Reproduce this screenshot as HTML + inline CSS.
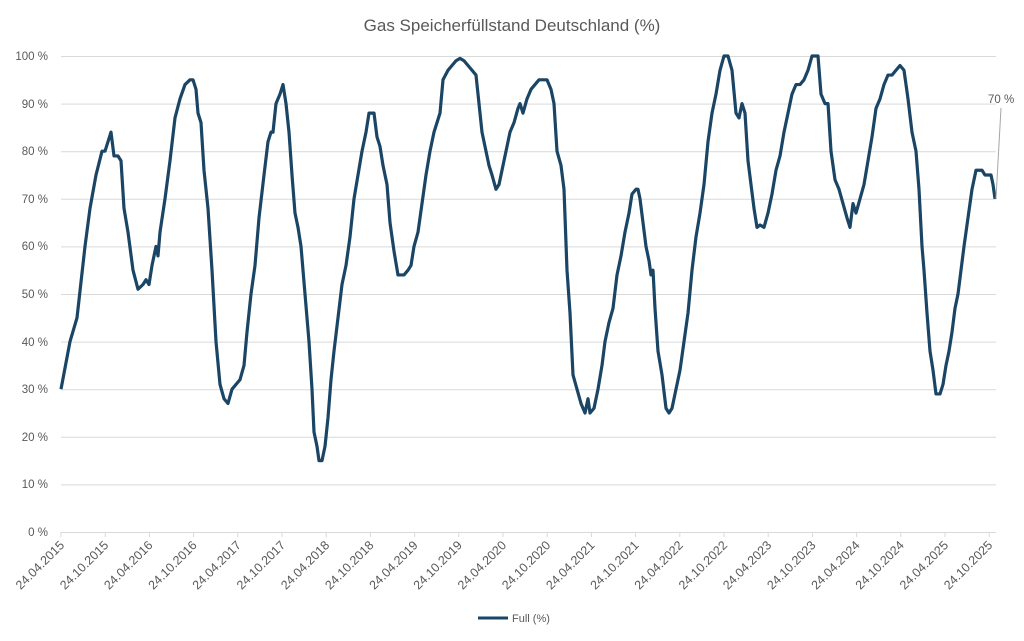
<!DOCTYPE html>
<html><head><meta charset="utf-8"><style>
html,body{margin:0;padding:0;background:#fff;}
svg{display:block;font-family:"Liberation Sans",sans-serif;}
</style></head><body>
<svg width="1024" height="641" viewBox="0 0 1024 641" xmlns="http://www.w3.org/2000/svg">
<text x="512" y="31" text-anchor="middle" font-size="17" fill="#595959">Gas Speicherfüllstand Deutschland (%)</text>
<g stroke="#d9d9d9" stroke-width="1">
<line x1="61" x2="996" y1="56.5" y2="56.5"/><line x1="61" x2="996" y1="104.1" y2="104.1"/><line x1="61" x2="996" y1="151.7" y2="151.7"/><line x1="61" x2="996" y1="199.3" y2="199.3"/><line x1="61" x2="996" y1="246.9" y2="246.9"/><line x1="61" x2="996" y1="294.5" y2="294.5"/><line x1="61" x2="996" y1="342.1" y2="342.1"/><line x1="61" x2="996" y1="389.7" y2="389.7"/><line x1="61" x2="996" y1="437.3" y2="437.3"/><line x1="61" x2="996" y1="484.9" y2="484.9"/><line x1="61" x2="996" y1="532.5" y2="532.5"/>
</g>
<g font-size="11.5" fill="#595959" text-anchor="end">
<text x="48" y="60">100 %</text><text x="48" y="108">90 %</text><text x="48" y="155">80 %</text><text x="48" y="203">70 %</text><text x="48" y="250">60 %</text><text x="48" y="298">50 %</text><text x="48" y="346">40 %</text><text x="48" y="393">30 %</text><text x="48" y="441">20 %</text><text x="48" y="488">10 %</text><text x="48" y="536">0 %</text>
</g>
<g id="ticks" stroke="#d9d9d9"></g>
<g id="xl" font-size="12.5" fill="#595959" text-anchor="end"></g>
<script>
var lab=[];for(var y=2015;y<=2025;y++){lab.push("24.04."+y);lab.push("24.10."+y);}
var t=document.getElementById("ticks"),g=document.getElementById("xl"),ns="http://www.w3.org/2000/svg";
lab.forEach(function(s,i){var x=61+i*44.2;
var l=document.createElementNS(ns,"line");l.setAttribute("x1",x);l.setAttribute("x2",x);l.setAttribute("y1",532);l.setAttribute("y2",537);t.appendChild(l);
var e=document.createElementNS(ns,"text");e.setAttribute("transform","translate("+(x+4)+",546) rotate(-45)");e.textContent=s;g.appendChild(e);});
</script>
<g transform="translate(0,532) scale(1,-4.76)">
<polyline fill="none" stroke="#1b4565" stroke-width="3.2" vector-effect="non-scaling-stroke" stroke-linejoin="round" points="61,30 70,40 77,45 85,60 90,68 96,75 102,80 105,80 108,82 111,84 114,79 118,79 121,78 124,68 128,63 133,55 138,51 143,52 146,53 149,52 152,56 156,60 158,58 160,63 165,70 170,78 175,87 180,91 185,94 190,95 193,95 196,93 198,88 201,86 204,76 208,68 212,55 216,40 220,31 224,28 228,27 232,30 236,31 240,32 244,35 247,42 251,50 255,56 259,66 264,75 268,82 271,84 273,84 276,90 280,92 283,94 286,90 289,84 292,75 295,67 298,64 301,60 305,50 309,40 312,30 314,21 317,18 319,15 322,15 325,18 328,24 331,32 334,38 338,45 342,52 346,56 350,62 354,70 358,75 362,80 366,84 369,88 374,88 377,83 380,81 383,77 387,73 390,65 394,59 398,54 404,54 408,55 411,56 414,60 418,63 422,69 426,75 430,80 434,84 437,86 440,88 443,95 448,97 452,98 456,99 460,99.5 464,99 468,98 472,97 476,96 479,90 482,84 486,80 489,77 492,75 496,72 499,73 502,76 506,80 510,84 514,86 518,89 520,90 523,88 527,91 531,93 535,94 539,95 543,95 547,95 551,93 554,90 557,80 561,77 564,72 567,55 570,46 573,33 577,30 581,27 585,25 588,28 590,25 594,26 598,30 602,35 605,40 609,44 613,47 617,54 621,58 625,63 629,67 632,71 636,72 638,72 640,70 643,65 646,60 649,57 651,54 653,55 655,47 658,38 662,33 666,26 669,25 672,26 676,30 680,34 684,40 688,46 692,55 696,62 700,67 704,73 708,82 712,88 716,92 720,97 724,100 728,100 732,97 736,88 739,87 742,90 745,88 748,78 751,73 754,68 757,64 760,64.5 764,64 768,67 772,71 776,76 780,79 784,84 788,88 792,92 796,94 800,94 804,95 808,97 812,100 818,100 821,92 825,90 828,90 831,80 835,74 839,72 843,69 847,66 850,64 853,69 856,67 860,70 864,73 868,78 872,83 876,89 880,91 884,94 888,96 892,96 896,97 900,98 904,97 908,91 912,84 916,80 919,72 922,60 924,55 927,46 930,38 933,34 936,29 940,29 943,31 946,35 949,38 952,42 955,47 958,50 961,55 964,60 968,66 972,72 976,76 979,76 982,76 985,75 989,75 991,75 993,73 995,70"/>
</g>
<line x1="1001" y1="108" x2="996" y2="198" stroke="#a6a6a6" stroke-width="1"/>
<text x="988" y="103" font-size="11.5" fill="#595959">70 %</text>
<line x1="478" y1="618" x2="508" y2="618" stroke="#1b4565" stroke-width="3"/>
<text x="512" y="622" font-size="11" fill="#595959">Full (%)</text>
</svg>
</body></html>
